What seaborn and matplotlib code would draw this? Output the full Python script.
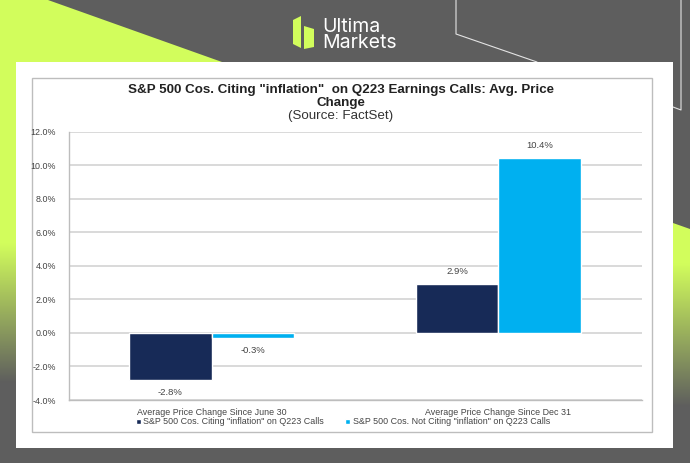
import numpy as np
import pandas as pd
import matplotlib
matplotlib.use("Agg")
import matplotlib.pyplot as plt
import seaborn as sns
from matplotlib.patches import Polygon, Rectangle
from matplotlib.colors import LinearSegmentedColormap
from matplotlib.ticker import FuncFormatter

# chart data
categories = ["Average Price Change Since June 30", "Average Price Change Since Dec 31"]
series_names = ['S&P 500 Cos. Citing "inflation" on Q223 Calls',
                'S&P 500 Cos. Not Citing "inflation" on Q223 Calls']
citing = [-2.8, 2.9]
not_citing = [-0.3, 10.4]
y_ticks = [-4, -2, 0, 2, 4, 6, 8, 10, 12]

df = pd.DataFrame({
    "category": categories * 2,
    "series": [series_names[0]] * 2 + [series_names[1]] * 2,
    "value": citing + not_citing,
})

sns.set_theme(style="white")
plt.rcParams["font.family"] = ["Liberation Sans", "DejaVu Sans"]

W, H = 690, 463
GREY = "#5e5e5e"
LIME = "#d2fd5c"
fig = plt.figure(figsize=(W / 100, H / 100), dpi=100, facecolor=GREY)

# ---- banner background, in pixel coordinates ----
bg = fig.add_axes([0, 0, 1, 1])
bg.set_xlim(0, W)
bg.set_ylim(H, 0)
bg.axis("off")

fade = LinearSegmentedColormap.from_list("fade", [LIME, GREY])
ramp = np.linspace(0, 1, 200).reshape(-1, 1)
bg.imshow(ramp, cmap=fade, extent=[0, 16, 383, 243], aspect="auto", zorder=1)
bg.add_patch(Polygon([(0, 0), (48, 0), (222, 62), (222, 70), (16, 70), (16, 243), (0, 243)],
                     fc=LIME, ec="none", zorder=1))
bg.imshow(ramp, cmap=fade, extent=[673, 690, 407, 263], aspect="auto", zorder=1)
bg.add_patch(Polygon([(673, 223), (690, 229), (690, 263), (673, 263)], fc=LIME, ec="none", zorder=1))
bg.set_xlim(0, W)
bg.set_ylim(H, 0)

# thin outline shapes behind the panel
bg.plot([456, 456, 537], [0, 34, 62], color="#e4e4e4", lw=0.8, zorder=2)
bg.plot([681, 681, 673], [0, 110, 107], color="#e4e4e4", lw=0.8, zorder=2)

# logo
bg.add_patch(Polygon([(293, 20), (301, 16), (301, 48), (293, 44)][::1], fc=LIME, ec="none", zorder=3))
bg.add_patch(Polygon([(304, 26), (314, 29), (314, 47), (304, 49)], fc=LIME, ec="none", zorder=3))
bg.text(322, 32, "Ultima", color="white", fontsize=14, family="Inter", va="baseline", zorder=3)
bg.text(322, 48, "Markets", color="white", fontsize=14, family="Inter", va="baseline", zorder=3)

# white panel and the chart frame
bg.add_patch(Rectangle((16, 62), 657, 386, fc="white", ec="none", zorder=4))
bg.add_patch(Rectangle((32, 78), 619.5, 354, fc="white", ec="#bdbdbd", lw=1.0, zorder=5))

bg.text(341, 90, 'S&P 500 Cos. Citing "inflation"  on Q223 Earnings Calls: Avg. Price',
        ha="center", va="center", fontsize=9.6, fontweight="bold", color="#222222", zorder=6)
bg.text(341, 103, "Change", ha="center", va="center", fontsize=9.6, fontweight="bold",
        color="#222222", zorder=6)
bg.text(341, 116, "(Source: FactSet)", ha="center", va="center", fontsize=9.6,
        color="#333333", zorder=6)

# ---- bar chart ----
ax = fig.add_axes([68.5 / W, 1 - 400 / H, 573 / W, (400 - 131.5) / H], zorder=2)
ax.patch.set_alpha(0)
sns.barplot(data=df, x="category", y="value", hue="series", order=categories,
            hue_order=series_names, palette=["#172a57", "#00b0f0"], width=0.576,
            gap=0, saturation=1, legend=False, ax=ax)
ax.set_xlim(-0.5, 1.5)
ax.set_ylim(-4, 12)
ax.set_yticks(y_ticks)
ax.yaxis.set_major_formatter(FuncFormatter(lambda v, _: f"{v:.1f}%"))
ax.set_xlabel("")
ax.set_ylabel("")
ax.grid(axis="y", color="#cfcfcf", lw=1.1)
ax.set_axisbelow(True)
ax.tick_params(axis="y", labelsize=6.4, labelcolor="#444444", length=0, pad=9)
ax.tick_params(axis="x", labelsize=6.4, labelcolor="#444444", length=0, pad=6)
for side in ["top", "right"]:
    ax.spines[side].set_visible(False)
for side in ["left", "bottom"]:
    ax.spines[side].set_color("#bdbdbd")
    ax.spines[side].set_linewidth(1.0)

for bars in ax.containers:
    ax.bar_label(bars, fmt="%.1f%%", fontsize=6.8, color="#444444", padding=6)

# legend
handles = [Rectangle((0, 0), 1, 1, fc=c) for c in ["#172a57", "#00b0f0"]]
fig.legend(handles, series_names, loc="center", bbox_to_anchor=(343 / W, 1 - 422 / H),
           ncol=2, frameon=False, fontsize=6.4, labelcolor="#444444", handlelength=0.55,
           handleheight=0.55, handletextpad=0.3, columnspacing=2.4)

fig.savefig("out.png", dpi=100, facecolor=GREY)
